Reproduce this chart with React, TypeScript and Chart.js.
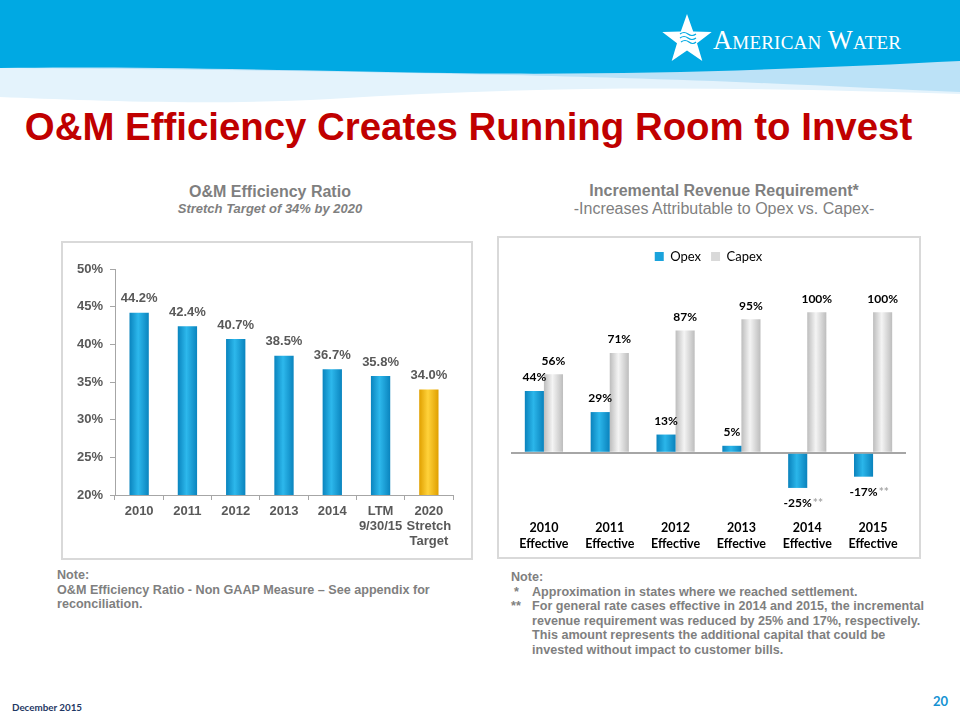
import React, { useEffect, useRef } from "react";
import { Chart, registerables } from "chart.js";

Chart.register(...registerables);

// ---------- data ----------
const ratioCategories = [["2010"], ["2011"], ["2012"], ["2013"], ["2014"], ["LTM", "9/30/15"], ["2020", "Stretch", "Target"]];
const ratioValues = [44.2, 42.4, 40.7, 38.5, 36.7, 35.8, 34.0];
const ratioIsTarget = [false, false, false, false, false, false, true];
const ratioTickValues = [20, 25, 30, 35, 40, 45, 50];

const revenueCategories = [
  ["2010", "Effective"],
  ["2011", "Effective"],
  ["2012", "Effective"],
  ["2013", "Effective"],
  ["2014", "Effective"],
  ["2015", "Effective"],
];
const opexShare = [44, 29, 13, 5, -25, -17];
const capexShare = [56, 71, 87, 95, 100, 100];
const opexMarks = ["", "", "", "", "**", "**"];

const ARIAL = "'Liberation Sans', Arial, Helvetica, sans-serif";
const NARROW = "'Liberation Sans Narrow', 'Arial Narrow', 'Liberation Sans', Arial, sans-serif";
const CALIBRI = "Lato, 'Open Sans', 'Liberation Sans', sans-serif";

// ---------- plugins ----------
function bevelPlugin(pick: (di: number, i: number) => [string, string]) {
  return {
    id: "bevel",
    beforeDatasetsDraw(chart: any) {
      const ctx = chart.ctx;
      chart.data.datasets.forEach((_: any, di: number) => {
        const meta = chart.getDatasetMeta(di);
        meta.data.forEach((el: any, i: number) => {
          const left = el.x - el.width / 2;
          const [edge, mid] = pick(di, i);
          const g = ctx.createLinearGradient(left, 0, left + el.width, 0);
          g.addColorStop(0, edge);
          g.addColorStop(0.45, mid);
          g.addColorStop(1, edge);
          const o = { ...el.options, backgroundColor: g };
          delete (o as any).$shared;
          el.options = o;
        });
      });
    },
  };
}

function labelPlugin(cfg: {
  font: string;
  color: string;
  above: number;
  below: number;
  format: (v: number) => string;
  marks?: (di: number, i: number) => string;
  markColor?: string;
}) {
  return {
    id: "valueLabels",
    afterDatasetsDraw(chart: any) {
      const ctx = chart.ctx;
      ctx.save();
      ctx.font = cfg.font;
      ctx.textBaseline = "middle";
      chart.data.datasets.forEach((ds: any, di: number) => {
        const meta = chart.getDatasetMeta(di);
        meta.data.forEach((el: any, i: number) => {
          const v = ds.data[i] as number;
          const txt = cfg.format(v);
          const y = v >= 0 ? el.y - cfg.above : el.y + cfg.below;
          ctx.fillStyle = cfg.color;
          ctx.textAlign = "center";
          ctx.fillText(txt, el.x, y);
          const mk = cfg.marks ? cfg.marks(di, i) : "";
          if (mk) {
            const w = ctx.measureText(txt).width;
            ctx.textAlign = "left";
            ctx.fillStyle = cfg.markColor || cfg.color;
            ctx.fillText(mk, el.x + w / 2 + 1, y);
          }
        });
      });
      ctx.restore();
    },
  };
}

// ---------- charts ----------
function RatioChart() {
  const ref = useRef<HTMLCanvasElement>(null);
  useEffect(() => {
    const axisColor = "#A6A6A6";
    const chart = new Chart(ref.current as HTMLCanvasElement, {
      type: "bar",
      data: {
        labels: ratioCategories as any,
        datasets: [
          {
            label: "O&M Efficiency Ratio",
            data: ratioValues,
            backgroundColor: ratioIsTarget.map((t) => (t ? "#FFC000" : "#119FDB")),
            borderWidth: 0,
            barPercentage: 0.4,
            categoryPercentage: 1,
          },
        ],
      },
      options: {
        animation: false,
        responsive: false,
        maintainAspectRatio: false,
        layout: { padding: { left: 0, right: 20, top: 28, bottom: 0 } },
        plugins: { legend: { display: false }, tooltip: { enabled: false } },
        scales: {
          x: {
            grid: { display: true, drawOnChartArea: false, drawTicks: true, tickLength: 5, color: axisColor, offset: true },
            border: { display: true, color: axisColor, width: 1 },
            ticks: {
              color: "#595959",
              font: { family: ARIAL, size: 13, weight: "bold", lineHeight: 1.15 },
              padding: 4,
              maxRotation: 0,
              autoSkip: false,
            },
            afterFit(s: any) {
              s.height = 65;
            },
          },
          y: {
            min: 20,
            max: 50,
            afterBuildTicks(s: any) {
              s.ticks = ratioTickValues.map((v) => ({ value: v }));
            },
            ticks: {
              color: "#595959",
              font: { family: ARIAL, size: 13, weight: "bold" },
              padding: 7,
              callback: (v: any) => v + "%",
            },
            grid: { drawOnChartArea: false, drawTicks: true, tickLength: 5, color: axisColor },
            border: { display: true, color: axisColor, width: 1 },
            afterFit(s: any) {
              s.width = 54;
            },
          },
        },
      } as any,
      plugins: [
        bevelPlugin((_di, i) => (ratioIsTarget[i] ? ["#E0A000", "#FFD23A"] : ["#0A84BE", "#2DB8EC"])),
        labelPlugin({
          font: `bold 13px ${ARIAL}`,
          color: "#595959",
          above: 14,
          below: 14,
          format: (v) => v.toFixed(1) + "%",
        }),
      ],
    });
    return () => chart.destroy();
  }, []);
  return (
    <canvas
      ref={ref}
      width={412}
      height={319}
      style={{ position: "absolute", left: 61, top: 241, width: 412, height: 319 }}
    />
  );
}

function RevenueChart() {
  const ref = useRef<HTMLCanvasElement>(null);
  useEffect(() => {
    const chart = new Chart(ref.current as HTMLCanvasElement, {
      type: "bar",
      data: {
        labels: revenueCategories as any,
        datasets: [
          {
            label: "Opex",
            data: opexShare,
            backgroundColor: "#1AA3DC",
            borderColor: "#0A7DB5",
            borderWidth: 0,
            barPercentage: 1,
            categoryPercentage: 0.58,
          },
          {
            label: "Capex",
            data: capexShare,
            backgroundColor: "#D9D9D9",
            borderColor: "#A6A6A6",
            borderWidth: 0,
            barPercentage: 1,
            categoryPercentage: 0.58,
          },
        ],
      },
      options: {
        animation: false,
        responsive: false,
        maintainAspectRatio: false,
        layout: { padding: { left: 14, right: 15, top: 4, bottom: 0 } },
        plugins: {
          legend: {
            display: true,
            position: "top",
            labels: {
              boxWidth: 9,
              boxHeight: 9,
              padding: 10,
              color: "#000000",
              font: { family: CALIBRI, size: 13 },
            },
          },
          tooltip: { enabled: false },
        },
        scales: {
          x: {
            grid: { display: false },
            border: { display: false },
            ticks: {
              color: "#000000",
              font: { family: CALIBRI, size: 12.5, weight: "bold", lineHeight: 1.28 },
              padding: 3,
              maxRotation: 0,
              autoSkip: false,
            },
            afterFit(s: any) {
              s.height = 50;
            },
          },
          y: {
            display: true,
            min: -40,
            max: 128,
            ticks: { display: false, stepSize: 20 },
            grid: {
              drawTicks: false,
              color: (c: any) => (c.tick && c.tick.value === 0 ? "#A6A6A6" : "rgba(0,0,0,0)"),
              lineWidth: 2,
            },
            border: { display: false },
            afterFit(s: any) {
              s.width = 0;
            },
          },
        },
      } as any,
      plugins: [
        bevelPlugin((di) => (di === 0 ? ["#0A82BC", "#2BB6EA"] : ["#BDBDBD", "#F4F4F4"])),
        labelPlugin({
          font: `bold 12px ${CALIBRI}`,
          color: "#000000",
          above: 13.5,
          below: 15,
          format: (v) => v + "%",
          marks: (di, i) => (di === 0 ? opexMarks[i] : ""),
          markColor: "#A6A6A6",
        }),
      ],
    });
    return () => chart.destroy();
  }, []);
  return (
    <canvas
      ref={ref}
      width={424}
      height={323}
      style={{ position: "absolute", left: 497, top: 236, width: 424, height: 323 }}
    />
  );
}

// ---------- decoration ----------
function starPoints(cx: number, cy: number, R: number, r: number) {
  const pts: string[] = [];
  for (let k = 0; k < 10; k++) {
    const a = ((-90 + k * 36) * Math.PI) / 180;
    const rad = k % 2 === 0 ? R : r;
    pts.push(`${(cx + rad * Math.cos(a)).toFixed(1)},${(cy + rad * Math.sin(a)).toFixed(1)}`);
  }
  return pts.join(" ");
}

function Header() {
  return (
    <svg width={960} height={110} style={{ position: "absolute", left: 0, top: 0 }}>
      <path d="M0,55 H960 V94 C760,88 560,84 330,99 C200,106 80,100 0,97 Z" fill="#E4F3FC" />
      <path d="M0,55 H960 V92 C860,88 760,82 620,78 C480,74 300,70 0,68 Z" fill="#BCE2F7" />
      <path d="M0,0 H960 V61 C820,68 640,76 450,73 C280,70 120,66 0,68 Z" fill="#00A9E3" />
      <polygon points={starPoints(687, 40, 26, 10.5)} fill="#FFFFFF" />
      <path d="M680,34 q4,-3 8,0 t8,0 M680,38 q4,-3 8,0 t8,0 M681,42 q4,-3 8,0 t7,0" stroke="#00A9E3" strokeWidth={1.2} fill="none" />
    </svg>
  );
}

const abs = (o: React.CSSProperties): React.CSSProperties => ({ position: "absolute", whiteSpace: "nowrap", ...o });

export default function App() {
  const noteStyle: React.CSSProperties = {
    fontFamily: NARROW,
    fontWeight: "bold",
    fontSize: 12.6,
    lineHeight: "14.5px",
    color: "#7F7F7F",
  };
  return (
    <div
      style={{
        position: "absolute",
        left: 0,
        top: 0,
        width: 960,
        height: 720,
        background: "#FFFFFF",
        overflow: "hidden",
      }}
    >
      <Header />
      <div
        style={abs({
          left: 713,
          top: 24,
          fontFamily: "'Liberation Serif', 'DejaVu Serif', serif",
          fontVariant: "small-caps",
          fontSize: 26.5,
          lineHeight: "32px",
          color: "#FFFFFF",
          letterSpacing: 0.2,
        })}
      >
        American Water
      </div>

      <div
        style={abs({
          left: 0,
          width: 937,
          top: 106,
          textAlign: "center",
          fontFamily: ARIAL,
          fontWeight: "bold",
          fontSize: 38.4,
          lineHeight: "42px",
          color: "#C00000",
        })}
      >
        O&amp;M Efficiency Creates Running Room to Invest
      </div>

      {/* left chart titles */}
      <div style={abs({ left: 70, width: 400, top: 182, textAlign: "center", fontFamily: ARIAL, fontWeight: "bold", fontSize: 16, lineHeight: "20px", color: "#7F7F7F" })}>
        O&amp;M Efficiency Ratio
      </div>
      <div style={abs({ left: 70, width: 400, top: 200, textAlign: "center", fontFamily: ARIAL, fontWeight: "bold", fontStyle: "italic", fontSize: 13, lineHeight: "18px", color: "#7F7F7F" })}>
        Stretch Target of 34% by 2020
      </div>

      {/* right chart titles */}
      <div style={abs({ left: 524, width: 400, top: 181, textAlign: "center", fontFamily: ARIAL, fontWeight: "bold", fontSize: 16, lineHeight: "20px", color: "#7F7F7F" })}>
        Incremental Revenue Requirement*
      </div>
      <div style={abs({ left: 524, width: 400, top: 199, textAlign: "center", fontFamily: ARIAL, fontSize: 16, lineHeight: "20px", color: "#7F7F7F" })}>
        -Increases Attributable to Opex vs. Capex-
      </div>

      {/* chart boxes */}
      <div style={{ position: "absolute", left: 61, top: 241, width: 412, height: 319, boxSizing: "border-box", border: "2px solid #D9D9D9" }} />
      <div style={{ position: "absolute", left: 497, top: 236, width: 424, height: 323, boxSizing: "border-box", border: "2px solid #D9D9D9" }} />

      <RatioChart />
      <RevenueChart />

      {/* notes */}
      <div style={abs({ ...noteStyle, left: 57, top: 568 })}>
        <div>Note:</div>
        <div>O&amp;M Efficiency Ratio - Non GAAP Measure – See appendix for</div>
        <div>reconciliation.</div>
      </div>
      <div style={abs({ ...noteStyle, left: 511, top: 570 })}>
        <div>Note:</div>
        <div style={{ display: "flex" }}>
          <span style={{ width: 21, paddingLeft: 3, boxSizing: "border-box" }}>*</span>
          <span>Approximation in states where we reached settlement.</span>
        </div>
        <div style={{ display: "flex" }}>
          <span style={{ width: 21 }}>**</span>
          <span>
            For general rate cases effective in 2014 and 2015, the incremental
            <br />
            revenue requirement was reduced by 25% and 17%, respectively.
            <br />
            This amount represents the additional capital that could be
            <br />
            invested without impact to customer bills.
          </span>
        </div>
      </div>

      {/* footer */}
      <div style={abs({ left: 12, top: 700, fontFamily: CALIBRI, fontWeight: "bold", fontSize: 9.8, lineHeight: "14px", color: "#1F3864" })}>
        December 2015
      </div>
      <div style={abs({ left: 933, top: 693, fontFamily: CALIBRI, fontWeight: "bold", fontSize: 13, lineHeight: "16px", color: "#1592D3" })}>
        20
      </div>
    </div>
  );
}
